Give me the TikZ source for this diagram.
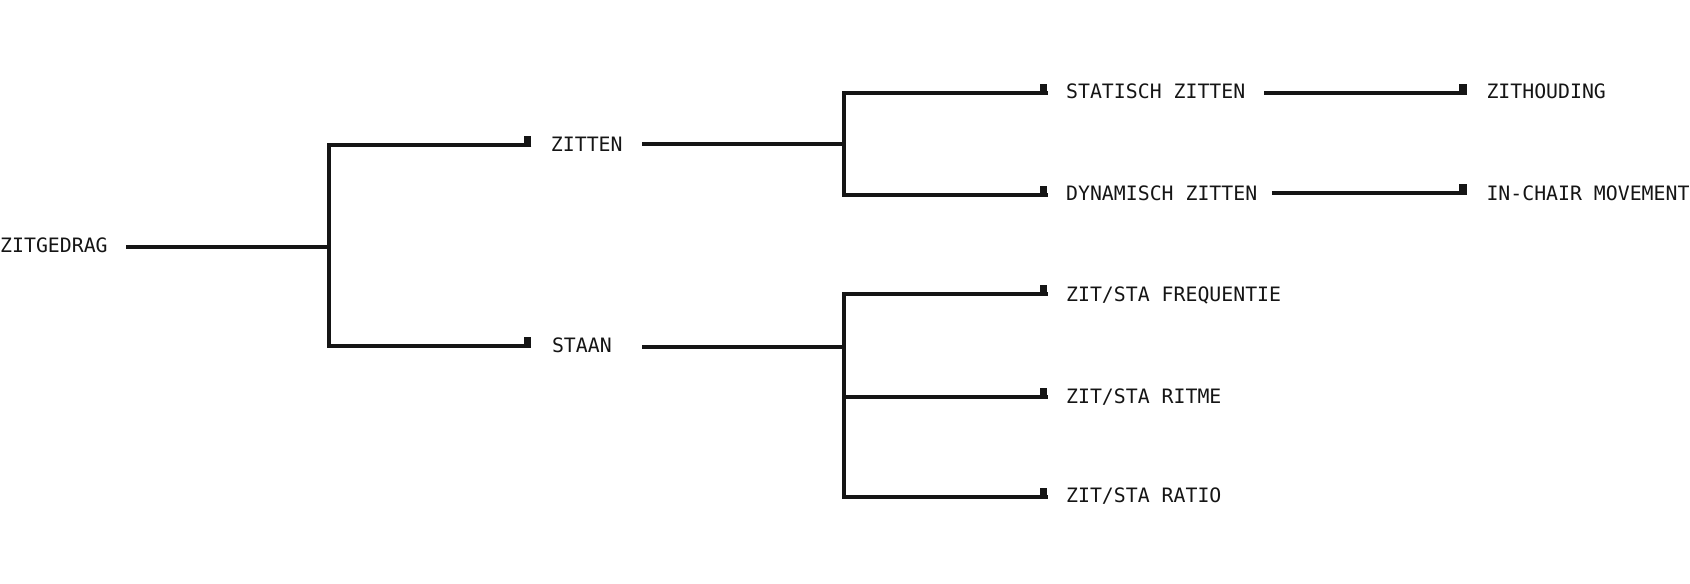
\documentclass[tikz,border=0pt]{standalone}
\usepackage{fontspec}
\newfontfamily\monofam{DejaVu Sans Mono}
\definecolor{ink}{HTML}{151515}
\tikzset{
  lbl/.style={font=\monofam\fontsize{18.4pt}{22pt}\selectfont, anchor=west, inner sep=0pt, text height=13.4pt, text depth=0pt, text=ink},
  conn/.style={draw=ink, line width=3.6pt},
  mk/.style={fill=ink, inner sep=0pt, minimum width=6.8pt, minimum height=9.8pt, anchor=south east},
}
\begin{document}
\begin{tikzpicture}[x=1pt,y=-1pt]
\useasboundingbox (0,0) rectangle (1568,541.8);
\fill[white] (0,0) rectangle (1568,541.8);
% labels
\node[lbl] (root) at (0,228) {ZITGEDRAG};
\node[lbl] (zitten) at (511,134) {ZITTEN};
\node[lbl] (staan) at (512,320.5) {STAAN};
\node[lbl] (stat) at (989,85) {STATISCH ZITTEN};
\node[lbl] (dyn) at (989,179) {DYNAMISCH ZITTEN};
\node[lbl] (zith) at (1379,85) {ZITHOUDING};
\node[lbl] (inch) at (1379,179) {IN-CHAIR MOVEMENT};
\node[lbl] (freq) at (989,273) {ZIT/STA FREQUENTIE};
\node[lbl] (ritme) at (989,368) {ZIT/STA RITME};
\node[lbl] (ratio) at (989,459.5) {ZIT/STA RATIO};
% connector points
\coordinate (rootout) at (117,229);
\coordinate (j1) at (305,229);
\coordinate (ezitten) at (493,134.5);
\coordinate (estaan) at (493,321);
\coordinate (zout) at (596,134);
\coordinate (j2) at (783,134);
\coordinate (estat) at (972,86);
\coordinate (edyn) at (972,181);
\coordinate (statout) at (1173,86);
\coordinate (ezith) at (1361,86);
\coordinate (dynout) at (1180,179);
\coordinate (einch) at (1361,179);
\coordinate (sout) at (596,322);
\coordinate (j3) at (783,322);
\coordinate (efreq) at (972,273);
\coordinate (eritme) at (972,368.5);
\coordinate (eratio) at (972,461);
\coordinate (j4) at (783,368.5);
% markers
\node[mk] (mzitten) at ([yshift=-1.8pt]ezitten) {};
\node[mk] (mstaan) at ([yshift=-1.8pt]estaan) {};
\node[mk] (mstat) at ([yshift=-1.8pt]estat) {};
\node[mk] (mdyn) at ([yshift=-1.8pt]edyn) {};
\node[mk] (mzith) at ([yshift=-1.8pt]ezith) {};
\node[mk] (minch) at ([yshift=-1.8pt]einch) {};
\node[mk] (mfreq) at ([yshift=-1.8pt]efreq) {};
\node[mk] (mritme) at ([yshift=-1.8pt]eritme) {};
\node[mk] (mratio) at ([yshift=-1.8pt]eratio) {};
% connectors
\draw[conn] (rootout) -- (j1);
\draw[conn] (ezitten) -| (j1) |- (estaan);
\draw[conn] (zout) -- (j2);
\draw[conn] (estat) -| (j2) |- (edyn);
\draw[conn] (statout) -- (ezith);
\draw[conn] (dynout) -- (einch);
\draw[conn] (sout) -- (j3);
\draw[conn] (efreq) -| (j3) |- (eratio);
\draw[conn] (j4) -- (eritme);
\end{tikzpicture}
\end{document}
